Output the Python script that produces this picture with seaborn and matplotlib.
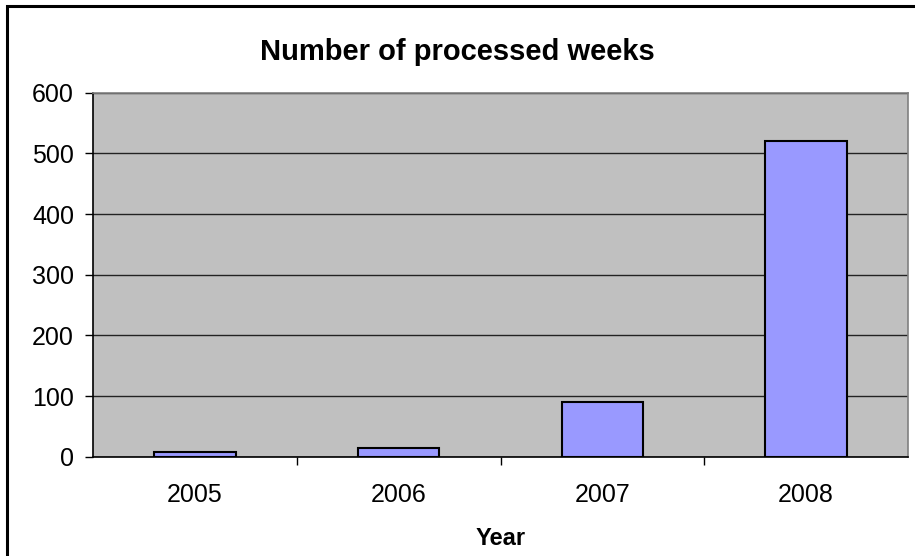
import matplotlib
matplotlib.use("Agg")
import matplotlib.pyplot as plt
import seaborn as sns
import pandas as pd
from matplotlib.patches import Rectangle
from matplotlib.ticker import FixedLocator

years = ["2005", "2006", "2007", "2008"]
weeks = [7, 14, 90, 521]
yticks = [0, 100, 200, 300, 400, 500, 600]

df = pd.DataFrame({"Year": years, "Weeks": weeks})

sns.set_style("white")
plt.rcParams["font.family"] = ["Liberation Sans", "DejaVu Sans"]
plt.rcParams["text.color"] = "black"
plt.rcParams["axes.labelcolor"] = "black"
plt.rcParams["xtick.color"] = "black"
plt.rcParams["ytick.color"] = "black"

fig = plt.figure(figsize=(9.15, 5.56), dpi=100)
ax = fig.add_axes([0.102, 0.1786, 0.890, 0.6547])
ax.set_facecolor("#C0C0C0")

sns.barplot(data=df, x="Year", y="Weeks", color="#9999FF", width=0.4,
            edgecolor="black", linewidth=1.5, saturation=1, ax=ax, zorder=3)

ax.set_xlim(-0.5, 3.5)
ax.set_ylim(0, 600)
ax.set_yticks(yticks)
ax.yaxis.grid(True, color="#222222", linewidth=1.0, zorder=1)
ax.set_axisbelow(True)

for s in ["top", "right"]:
    ax.spines[s].set_color("#808080")
    ax.spines[s].set_linewidth(1.2)
for s in ["left", "bottom"]:
    ax.spines[s].set_color("black")
    ax.spines[s].set_linewidth(1.2)

ax.tick_params(axis="y", direction="out", length=6, width=1, color="black",
               labelsize=18, pad=8, left=True, labelcolor="black")
ax.tick_params(axis="x", which="major", length=0, labelsize=18, pad=19,
               labelcolor="black")
ax.xaxis.set_minor_locator(FixedLocator([0.5, 1.5, 2.5]))
ax.tick_params(axis="x", which="minor", direction="out", length=6, width=1,
               color="black", bottom=True)

ax.set_ylabel("")
ax.set_xlabel("Year", fontsize=17, fontweight="bold", labelpad=14,
              color="black")
fig.text(0.5, 0.907, "Number of processed weeks", ha="center", va="center",
         fontsize=21, fontweight="bold", color="black")

fig.patches.append(Rectangle((7 / 915, -0.02), 1.05, 1 - 6 / 556 + 0.02,
                             transform=fig.transFigure, fill=False,
                             edgecolor="black", linewidth=2.2))

fig.savefig("out.png", dpi=100)
